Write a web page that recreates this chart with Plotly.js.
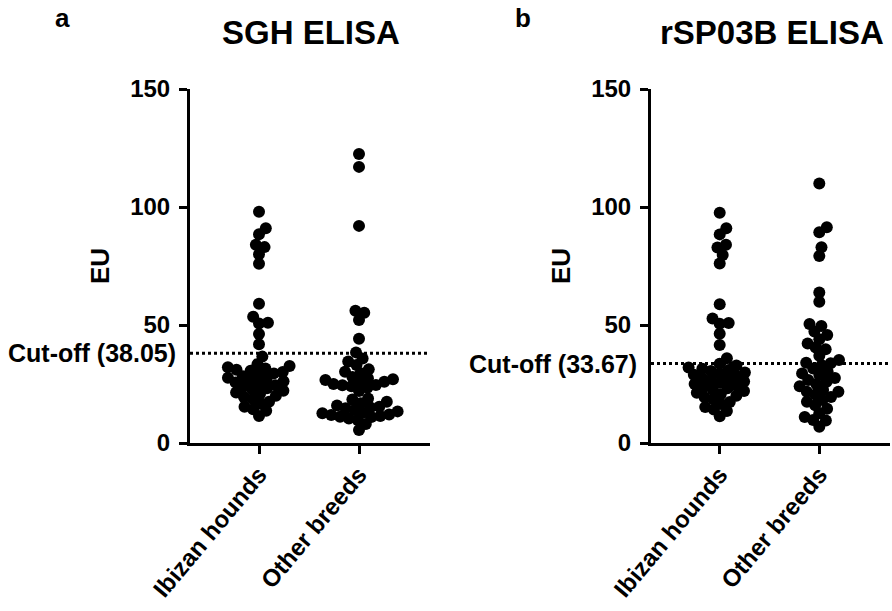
<!DOCTYPE html>
<html>
<head>
<meta charset="utf-8">
<script src="https://cdn.plot.ly/plotly-3.0.1.min.js"></script>
<style>html,body{margin:0;padding:0;background:#fff;}#chart{width:892px;height:611px;}</style>
</head>
<body>
<div id="chart"></div>
<script>
// ---- data ----
const categories = ["Ibizan hounds", "Other breeds"];
const panelTitles = ["SGH ELISA", "rSP03B ELISA"];
const panelLetters = ["a", "b"];
const cutoffs = [38.05, 33.67];
const yTicks = [0, 50, 100, 150];

const sghIbizan = [98, 91, 88.5, 84, 83, 80, 76, 59, 53.5, 51, 50.6, 46.2, 41.8, 36.6,
  33.4, 32.6, 32.1, 31.6, 31.0, 30.6, 30.1, 29.5, 29.0, 28.3, 27.6, 27.2, 26.7, 26.2, 25.6,
  25.1, 24.5, 23.9, 23.2, 22.7, 22.1, 21.4, 20.8, 20.0, 19.5, 18.6, 17.5, 16.6, 15.4, 14.3,
  13.7, 11.4];
const sghOther = [122.5, 117, 92, 56, 55.2, 52.1, 44.2, 38.4, 35.8, 34.5, 33.0, 31.2, 30.2,
  29.6, 28.0, 27.4, 27.0, 26.7, 26.0, 25.8, 25.0, 24.6, 24.5, 24.0, 23.4, 22.0, 18.9, 18.4,
  17.5, 16.8, 15.9, 15.4, 15.0, 14.7, 14.0, 13.4, 12.8, 12.6, 12.1, 11.9, 11.4, 11.1, 11.0,
  10.4, 9.7, 8.0, 5.5];
const rspIbizan = [97.6, 91, 88.4, 84, 82.8, 79.7, 76.1, 58.8, 52.8, 50.8, 50.5, 46.3, 41.5,
  35.9, 33.6, 32.8, 32.0, 31.5, 30.9, 30.5, 29.9, 29.5, 28.9, 28.4, 27.5, 27.1, 26.6, 26.1,
  25.5, 25.0, 24.4, 23.8, 23.2, 22.6, 22.0, 21.3, 20.7, 20.0, 19.4, 18.5, 17.4, 16.5, 15.3,
  14.2, 13.6, 11.3];
const rspOther = [110, 91.4, 89.3, 82.9, 79.2, 63.8, 59.9, 50.4, 49.6, 47.2, 45.8, 44.0, 42.2,
  40.5, 39.7, 37.0, 35.2, 34.0, 33.8, 33.0, 31.6, 30.2, 29.5, 28.8, 27.5, 26.7, 26.0, 25.0,
  24.0, 22.5, 21.7, 21.7, 20.5, 19.5, 18.2, 17.5, 16.0, 14.5, 12.6, 11.0, 9.7, 9.5, 6.9];

const panels = [[sghIbizan, sghOther], [rspIbizan, rspOther]];

// ---- layout geometry ----
const W = 892, H = 611;
const xRange = [-0.69, 1.71];
const yRange = [0, 150];
const xDomains = [[190 / W, 430 / W], [651 / W, 890 / W]];
const yDomain = [1 - 443 / H, 1 - 89 / H];
const plotH = (yDomain[1] - yDomain[0]) * H;
const pxPerY = plotH / (yRange[1] - yRange[0]);

function swarm(values, pxX, pxY, d) {
  const order = values.map((v, i) => i).sort((a, b) => values[a] - values[b]);
  const placed = [];
  const off = new Array(values.length);
  for (const i of order) {
    const y = values[i] * pxY;
    const cands = [0];
    for (const p of placed) {
      const dy = Math.abs(p.y - y);
      if (dy < d) {
        const dx = Math.sqrt(d * d - dy * dy);
        cands.push(p.x + dx, p.x - dx);
      }
    }
    cands.sort((a, b) => Math.abs(a) - Math.abs(b));
    let best = 0;
    for (const c of cands) {
      if (placed.every(p => (p.x - c) ** 2 + (p.y - y) ** 2 >= d * d - 1e-6)) { best = c; break; }
    }
    placed.push({ x: best, y: y });
    off[i] = best / pxX;
  }
  return off;
}

const font = { family: "Liberation Sans, Arial, sans-serif", color: "#000" };
const traces = [];
const layout = {
  width: W, height: H, autosize: false,
  margin: { l: 0, r: 0, t: 0, b: 0 },
  paper_bgcolor: "#fff", plot_bgcolor: "#fff",
  showlegend: false,
  font: font,
  annotations: [], shapes: []
};

panels.forEach((groups, p) => {
  const xa = p === 0 ? "x" : "x2", ya = p === 0 ? "y" : "y2";
  const pxX = (xDomains[p][1] - xDomains[p][0]) * W / (xRange[1] - xRange[0]);
  groups.forEach((vals, g) => {
    const offs = swarm(vals, pxX, pxPerY, 9);
    traces.push({
      type: "scatter", mode: "markers",
      x: vals.map((v, i) => g + offs[i]), y: vals,
      xaxis: xa, yaxis: ya, cliponaxis: false,
      marker: { color: "#000", size: 12, line: { width: 0 } },
      hoverinfo: "y"
    });
  });
  const axKeyX = p === 0 ? "xaxis" : "xaxis2";
  const axKeyY = p === 0 ? "yaxis" : "yaxis2";
  layout[axKeyX] = {
    domain: xDomains[p], range: xRange, anchor: ya,
    tickvals: [0, 1], ticktext: categories, tickangle: -50,
    ticks: "outside", ticklen: 8, tickwidth: 3, tickcolor: "#000",
    showline: true, linewidth: 3, linecolor: "#000",
    showgrid: false, zeroline: false, ticklabelstandoff: -3,
    tickfont: { family: font.family, size: 24, color: "#000", weight: "bold" }
  };
  layout[axKeyY] = {
    domain: yDomain, range: yRange, anchor: xa,
    tickvals: yTicks, ticks: "outside", ticklen: 8, tickwidth: 3, tickcolor: "#000",
    showline: true, linewidth: 3, linecolor: "#000",
    showgrid: false, zeroline: false, ticklabelstandoff: 4,
    tickfont: { family: font.family, size: 24, color: "#000", weight: "bold" }
  };
  layout.shapes.push({
    type: "line", xref: xa + " domain", yref: ya,
    x0: 0, x1: 1, y0: cutoffs[p], y1: cutoffs[p],
    line: { color: "#000", width: 3, dash: "dot" }
  });
  const leftPx = xDomains[p][0] * W;
  layout.annotations.push({
    text: "Cut-off (" + cutoffs[p].toFixed(2) + ")",
    xref: "paper", yref: ya, x: (leftPx - 12) / W, y: cutoffs[p],
    xanchor: "right", yanchor: "middle", showarrow: false,
    font: { family: font.family, size: 25, color: "#000", weight: "bold" }
  });
  layout.annotations.push({
    text: "EU", textangle: -90,
    xref: "paper", yref: "paper", x: (leftPx - 90) / W, y: 1 - 266 / H,
    xanchor: "center", yanchor: "middle", showarrow: false,
    font: { family: font.family, size: 26, color: "#000", weight: "bold" }
  });
  layout.annotations.push({
    text: panelTitles[p],
    xref: "paper", yref: "paper", x: (leftPx + 121) / W, y: 1 - 33 / H,
    xanchor: "center", yanchor: "middle", showarrow: false,
    font: { family: font.family, size: 33, color: "#000", weight: "bold" }
  });
  layout.annotations.push({
    text: panelLetters[p],
    xref: "paper", yref: "paper", x: (leftPx - 128) / W, y: 1 - 18 / H,
    xanchor: "center", yanchor: "middle", showarrow: false,
    font: { family: font.family, size: 26, color: "#000", weight: "bold" }
  });
});
Plotly.newPlot("chart", traces, layout, { displayModeBar: false, staticPlot: true });
</script>
</body>
</html>
